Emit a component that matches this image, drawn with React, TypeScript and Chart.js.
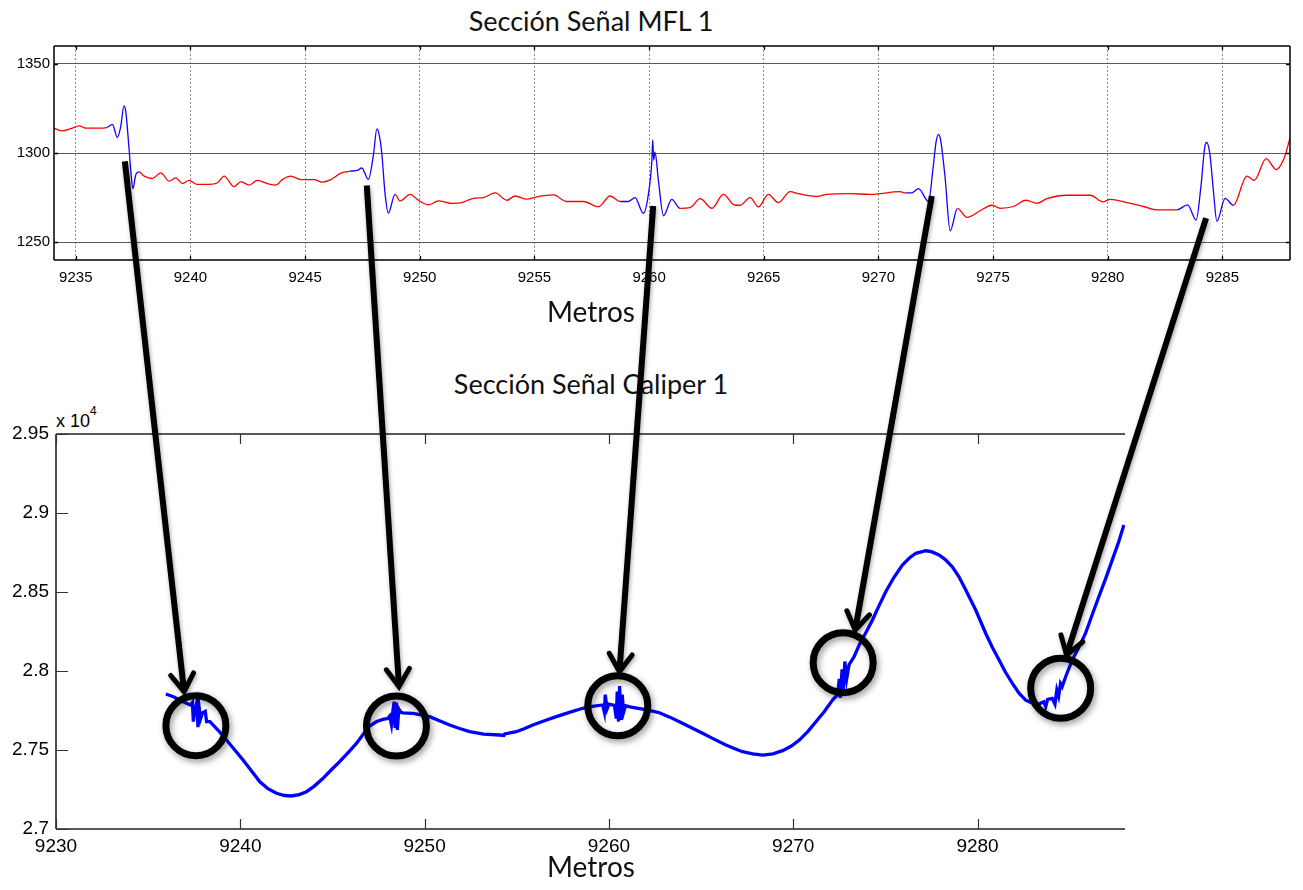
import React, { useEffect, useRef } from 'react';
import { Chart, registerables } from 'chart.js';

Chart.register(...registerables);

// ---------- Sección Señal MFL 1 ----------
const mflX = [
  9234.05, 9234.42, 9234.8, 9235.15, 9235.43, 9236.0, 9236.38, 9236.6, 9236.81, 9236.96,
  9237.1, 9237.18, 9237.32, 9237.4, 9237.49, 9237.62, 9237.76, 9237.98, 9238.34, 9238.71,
  9239.07, 9239.36, 9239.65, 9239.94, 9240.3, 9240.8, 9241.18, 9241.47, 9241.9, 9242.2,
  9242.56, 9242.92, 9243.36, 9243.72, 9244.01, 9244.38, 9244.81, 9245.39, 9245.75, 9246.12,
  9246.56, 9246.96, 9247.28, 9247.47, 9247.76, 9247.98, 9248.13, 9248.24, 9248.35, 9248.49,
  9248.63, 9248.92, 9249.14, 9249.58, 9249.94, 9250.38, 9250.81, 9251.4, 9251.83, 9252.34,
  9252.78, 9253.29, 9253.8, 9254.16, 9254.67, 9255.1, 9255.83, 9256.41, 9257.14, 9257.79,
  9258.3, 9258.74, 9259.1, 9259.39, 9259.75, 9259.97, 9260.12, 9260.16, 9260.2, 9260.26,
  9260.41, 9260.63, 9260.99, 9261.35, 9261.79, 9262.23, 9262.74, 9263.24, 9263.75, 9263.97,
  9264.41, 9264.77, 9265.2, 9265.64, 9266.15, 9266.51, 9267.32, 9267.75, 9268.77, 9269.64,
  9270.95, 9271.17, 9271.45, 9271.75, 9272.19, 9272.37, 9272.52, 9272.62, 9272.72, 9272.91,
  9273.13, 9273.45, 9273.86, 9274.44, 9274.95, 9275.31, 9275.89, 9276.44, 9276.91, 9277.35,
  9278.22, 9279.24, 9279.79, 9280.11, 9280.84, 9281.56, 9282.14, 9283.02, 9283.48, 9283.86,
  9284.06, 9284.25, 9284.32, 9284.46, 9284.61, 9284.76, 9285.12, 9285.48, 9286.07, 9286.39,
  9286.91, 9287.35, 9287.67, 9287.95,
];
const mflY = [
  1313.9, 1312.4, 1313.8, 1315.2, 1313.9, 1313.9, 1314.4, 1316.1, 1308.7, 1314.8,
  1326.4, 1323.2, 1302.8, 1289.8, 1280.0, 1288.0, 1289.4, 1287.0, 1285.7, 1288.9,
  1284.2, 1286.1, 1282.8, 1284.6, 1282.4, 1282.4, 1283.3, 1287.0, 1281.1, 1283.9,
  1282.0, 1284.6, 1282.8, 1282.0, 1285.1, 1287.0, 1285.1, 1285.1, 1283.7, 1285.1,
  1288.7, 1289.8, 1290.2, 1291.6, 1285.2, 1299.0, 1313.5, 1309.6, 1299.0, 1276.8,
  1266.3, 1276.8, 1273.1, 1276.8, 1273.5, 1270.9, 1273.1, 1271.8, 1272.2, 1274.6,
  1275.0, 1277.6, 1273.5, 1275.9, 1274.1, 1275.4, 1276.5, 1272.8, 1272.8, 1269.8,
  1275.9, 1272.8, 1272.8, 1275.0, 1266.1, 1276.8, 1295.4, 1307.4, 1296.0, 1300.5,
  1284.2, 1264.8, 1274.0, 1269.0, 1269.4, 1274.4, 1269.0, 1276.8, 1270.7, 1270.7,
  1275.0, 1269.8, 1276.8, 1272.2, 1278.3, 1277.2, 1275.6, 1276.8, 1277.2, 1276.8,
  1278.3, 1277.6, 1277.6, 1280.0, 1272.8, 1289.8, 1306.5, 1310.5, 1307.0, 1286.1,
  1256.4, 1269.0, 1263.9, 1267.6, 1270.7, 1269.0, 1270.0, 1273.5, 1271.8, 1274.4,
  1276.3, 1276.3, 1272.6, 1274.0, 1272.2, 1270.0, 1268.1, 1268.1, 1270.9, 1262.4,
  1280.5, 1304.6, 1305.9, 1299.0, 1278.7, 1261.7, 1274.6, 1270.7, 1287.0, 1284.6,
  1296.8, 1290.7, 1296.3, 1308.3,
];
// stretches of the MFL signal drawn in blue (anomalies)
const mflBlueStart = [9236.3, 9246.8, 9258.7, 9271.1, 9283.0];
const mflBlueEnd = [9237.7, 9249.0, 9261.2, 9273.6, 9285.4];
const mflXTicks = [9235, 9240, 9245, 9250, 9255, 9260, 9265, 9270, 9275, 9280, 9285];
const mflYTicks = [1250, 1300, 1350];

// ---------- Sección Señal Caliper 1 (x 10^4) ----------
const caliperX = [
  9235.96, 9236.4, 9236.9, 9237.2, 9237.3, 9237.4, 9237.45, 9237.55, 9237.65, 9237.7,
  9237.78, 9237.85, 9237.95, 9238.1, 9238.17, 9238.35, 9238.8, 9239.25, 9239.7, 9240.15,
  9240.6, 9241.06, 9241.5, 9241.96, 9242.4, 9242.77, 9243.2, 9243.59, 9244.0, 9244.49,
  9244.9, 9245.39, 9245.85, 9246.3, 9246.7, 9247.02, 9247.4, 9247.74, 9248.0, 9248.1,
  9248.2, 9248.28, 9248.35, 9248.4, 9248.47, 9248.52, 9248.6, 9248.7, 9248.8, 9249.37,
  9249.8, 9250.27, 9250.8, 9251.36, 9251.9, 9252.44, 9253.2, 9254.07, 9254.3, 9254.35,
  9254.97, 9255.4, 9255.87, 9256.5, 9257.14, 9257.9, 9258.58, 9259.1, 9259.66, 9259.75,
  9259.8, 9259.9, 9260.0, 9260.3, 9260.4, 9260.45, 9260.52, 9260.58, 9260.65, 9260.72,
  9260.8, 9260.9, 9261.2, 9261.83, 9262.3, 9262.74, 9263.3, 9263.82, 9264.45, 9265.08,
  9265.7, 9266.35, 9266.8, 9267.25, 9267.8, 9268.34, 9268.9, 9269.42, 9269.9, 9270.33,
  9270.8, 9271.23, 9271.7, 9272.13, 9272.4, 9272.5, 9272.55, 9272.65, 9272.72, 9272.8,
  9272.9, 9273.03, 9273.3, 9273.58, 9273.95, 9274.3, 9274.65, 9275.02, 9275.45, 9275.92,
  9276.3, 9276.65, 9277.19, 9277.5, 9277.91, 9278.25, 9278.63, 9279.0, 9279.36, 9279.9,
  9280.44, 9280.8, 9281.17, 9281.5, 9281.89, 9282.25, 9282.61, 9282.95, 9283.33, 9283.6,
  9283.7, 9283.8, 9284.05, 9284.2, 9284.3, 9284.4, 9284.5, 9284.59, 9284.8, 9285.14,
  9285.5, 9285.86, 9286.2, 9286.58, 9286.95, 9287.31, 9287.65, 9287.94,
];
const caliperY = [
  2.7854, 2.7835, 2.7806, 2.779, 2.7785, 2.78, 2.768, 2.776, 2.7805, 2.7645,
  2.776, 2.77, 2.7735, 2.7745, 2.768, 2.7679, 2.7625, 2.7563, 2.75, 2.7437,
  2.7368, 2.7299, 2.7255, 2.7226, 2.7212, 2.7209, 2.7218, 2.7236, 2.727, 2.7321,
  2.737, 2.7426, 2.7484, 2.7542, 2.7605, 2.7652, 2.768, 2.7694, 2.77, 2.7715,
  2.766, 2.775, 2.7806, 2.764, 2.78, 2.7627, 2.776, 2.774, 2.7735, 2.7732,
  2.7722, 2.7711, 2.7685, 2.7658, 2.7636, 2.7616, 2.76, 2.7595, 2.7592, 2.7602,
  2.7616, 2.7635, 2.7658, 2.7685, 2.7711, 2.774, 2.7764, 2.7776, 2.7785, 2.774,
  2.785, 2.776, 2.779, 2.7782, 2.77, 2.787, 2.768, 2.7905, 2.769, 2.785,
  2.774, 2.778, 2.7772, 2.7758, 2.7748, 2.7736, 2.7708, 2.7679, 2.7643, 2.7606,
  2.7569, 2.7532, 2.751, 2.7489, 2.7476, 2.7468, 2.7476, 2.7496, 2.7525, 2.7563,
  2.7618, 2.7679, 2.7745, 2.7816, 2.785, 2.795, 2.783, 2.801, 2.788, 2.806,
  2.795, 2.804, 2.809, 2.8165, 2.8245, 2.8323, 2.8412, 2.8502, 2.859, 2.8671,
  2.8715, 2.8745, 2.8761, 2.8755, 2.8734, 2.8705, 2.866, 2.8595, 2.8513, 2.8386,
  2.8239, 2.815, 2.807, 2.7995, 2.7922, 2.786, 2.7816, 2.7798, 2.7791, 2.7805,
  2.7775, 2.782, 2.7827, 2.779, 2.788, 2.784, 2.792, 2.7901, 2.797, 2.807,
  2.815, 2.8239, 2.835, 2.847, 2.8585, 2.8703, 2.8815, 2.8924,
];
const caliperXTicks = [9230, 9240, 9250, 9260, 9270, 9280];
const caliperYTicks = [2.7, 2.75, 2.8, 2.85, 2.9, 2.95];

// ---------- annotations: arrows from MFL anomalies to circled caliper points ----------
const arrowFromX = [9237.14, 9247.69, 9260.18, 9272.33, 9284.29];
const arrowFromY = [1295.3, 1281.8, 1270.3, 1275.9, 1263.5];
const arrowToX = [9236.95, 9248.61, 9260.57, 9273.36, 9284.83];
const arrowToY = [2.7869, 2.7901, 2.7996, 2.8259, 2.8101];
const circleX = [9237.59, 9248.47, 9260.48, 9272.71, 9284.51];
const circleY = [2.7654, 2.7652, 2.778, 2.8053, 2.7891];

const TICK_FONT = '"Liberation Sans", Arial, Helvetica, sans-serif';
const TEXT_FONT = 'Lato, "Open Sans", sans-serif';

const framePlugin = {
  id: 'frame',
  afterDraw(chart: any, _args: any, opts: any) {
    const { ctx, chartArea: a, scales } = chart;
    ctx.save();
    ctx.strokeStyle = opts.color;
    ctx.lineWidth = opts.width;
    ctx.beginPath();
    if (opts.sides.includes('l')) { ctx.moveTo(a.left, a.top); ctx.lineTo(a.left, a.bottom); }
    if (opts.sides.includes('r')) { ctx.moveTo(a.right, a.top); ctx.lineTo(a.right, a.bottom); }
    if (opts.sides.includes('t')) { ctx.moveTo(a.left, a.top); ctx.lineTo(a.right, a.top); }
    if (opts.sides.includes('b')) { ctx.moveTo(a.left, a.bottom); ctx.lineTo(a.right, a.bottom); }
    ctx.stroke();
    ctx.strokeStyle = opts.tickColor;
    ctx.lineWidth = opts.tickWidth;
    ctx.beginPath();
    for (const t of scales.x.ticks) {
      const px = Math.round(scales.x.getPixelForValue(t.value)) + 0.5;
      ctx.moveTo(px, a.bottom); ctx.lineTo(px, a.bottom - opts.xTickLen);
      ctx.moveTo(px, a.top); ctx.lineTo(px, a.top + opts.xTickLen);
    }
    for (const t of scales.y.ticks) {
      const py = Math.round(scales.y.getPixelForValue(t.value)) + 0.5;
      ctx.moveTo(a.left, py); ctx.lineTo(a.left + opts.yTickLen, py);
      if (opts.sides.includes('r')) { ctx.moveTo(a.right, py); ctx.lineTo(a.right - opts.yTickLen, py); }
    }
    ctx.stroke();
    ctx.restore();
  },
};

const inBlue = (x: number) => mflBlueStart.some((s, i) => x >= s && x <= mflBlueEnd[i]);

const TOP = { left: 0, top: 30, width: 1287, height: 262 };
const BOT = { left: 0, top: 412, width: 1287, height: 440 };

function drawArrow(ctx: CanvasRenderingContext2D, x0: number, y0: number, x1: number, y1: number) {
  const ang = Math.atan2(y1 - y0, x1 - x0);
  ctx.save();
  ctx.shadowColor = 'rgba(0,0,0,0.35)';
  ctx.shadowBlur = 4;
  ctx.shadowOffsetX = 1;
  ctx.shadowOffsetY = 2;
  ctx.strokeStyle = '#000';
  ctx.lineWidth = 6;
  ctx.lineCap = 'butt';
  ctx.beginPath();
  ctx.moveTo(x0, y0);
  ctx.lineTo(x1 - Math.cos(ang) * 3, y1 - Math.sin(ang) * 3);
  ctx.stroke();
  const L = 21;
  const h = 0.58;
  ctx.lineWidth = 5;
  ctx.lineCap = 'round';
  ctx.lineJoin = 'miter';
  ctx.beginPath();
  ctx.moveTo(x1 - L * Math.cos(ang - h), y1 - L * Math.sin(ang - h));
  ctx.lineTo(x1, y1);
  ctx.lineTo(x1 - L * Math.cos(ang + h), y1 - L * Math.sin(ang + h));
  ctx.stroke();
  ctx.restore();
}

function drawRing(ctx: CanvasRenderingContext2D, cx: number, cy: number) {
  ctx.save();
  ctx.shadowColor = 'rgba(0,0,0,0.4)';
  ctx.shadowBlur = 6;
  ctx.shadowOffsetX = 2;
  ctx.shadowOffsetY = 3;
  ctx.strokeStyle = '#000';
  ctx.lineWidth = 7;
  ctx.beginPath();
  ctx.arc(cx, cy, 30, 0, Math.PI * 2);
  ctx.stroke();
  ctx.restore();
}

export default function App() {
  const topRef = useRef<HTMLCanvasElement>(null);
  const botRef = useRef<HTMLCanvasElement>(null);
  const ovRef = useRef<HTMLCanvasElement>(null);

  useEffect(() => {
    const top = new Chart(topRef.current!, {
      type: 'line',
      data: {
        datasets: [
          {
            data: mflX.map((x, i) => ({ x, y: mflY[i] })),
            borderColor: '#ff0000',
            borderWidth: 1.3,
            pointRadius: 0,
            cubicInterpolationMode: 'monotone',
            segment: {
              borderColor: (c: any) =>
                inBlue((c.p0.parsed.x + c.p1.parsed.x) / 2) ? '#1400ff' : '#ff0000',
            },
          } as any,
        ],
      },
      plugins: [framePlugin],
      options: {
        responsive: false,
        animation: false,
        events: [],
        layout: { padding: { top: 8, right: 5, left: 0, bottom: 0 } },
        plugins: {
          legend: { display: false },
          tooltip: { enabled: false },
          frame: {
            sides: 'lrtb', color: '#000', width: 1.5, tickColor: '#000', tickWidth: 1.3,
            xTickLen: 4, yTickLen: 4,
          },
        } as any,
        scales: {
          x: {
            type: 'linear',
            min: 9234.05,
            max: 9287.95,
            afterBuildTicks: (s: any) => { s.ticks = mflXTicks.map((v) => ({ value: v })); },
            afterFit: (s: any) => { s.height = 40; s.paddingLeft = 0; s.paddingRight = 0; },
            grid: { color: '#8a8a8a', lineWidth: 1, drawTicks: false },
            border: { display: false, dash: [2, 2] },
            ticks: {
              padding: 9,
              color: '#000',
              font: { family: TICK_FONT, size: 15 },
              maxRotation: 0,
              autoSkip: false,
              callback: (v: any) => String(v),
            },
          },
          y: {
            type: 'linear',
            min: 1240,
            max: 1360,
            afterBuildTicks: (s: any) => { s.ticks = mflYTicks.map((v) => ({ value: v })); },
            afterFit: (s: any) => { s.width = 46; s.paddingTop = 0; s.paddingBottom = 0; },
            grid: { color: '#5a5a5a', lineWidth: 1, drawTicks: false },
            border: { display: false },
            ticks: {
              padding: 4,
              color: '#000',
              font: { family: TICK_FONT, size: 15 },
              callback: (v: any) => String(v),
            },
          },
        },
      } as any,
    });

    const bot = new Chart(botRef.current!, {
      type: 'line',
      data: {
        datasets: [
          {
            data: caliperX.map((x, i) => ({ x, y: caliperY[i] })),
            borderColor: '#0000ff',
            borderWidth: 3.3,
            pointRadius: 0,
            tension: 0,
          },
        ],
      },
      plugins: [framePlugin],
      options: {
        responsive: false,
        animation: false,
        events: [],
        layout: { padding: { top: 14, right: 170, left: 0, bottom: 0 } },
        plugins: {
          legend: { display: false },
          tooltip: { enabled: false },
          frame: {
            sides: 'ltb', color: '#222', width: 1.6, tickColor: '#333', tickWidth: 1.2,
            xTickLen: 10, yTickLen: 12,
          },
        } as any,
        scales: {
          x: {
            type: 'linear',
            min: 9230,
            max: 9288,
            afterBuildTicks: (s: any) => { s.ticks = caliperXTicks.map((v) => ({ value: v })); },
            afterFit: (s: any) => { s.height = 31; s.paddingLeft = 0; s.paddingRight = 0; },
            grid: { display: false, drawTicks: false },
            border: { display: false },
            ticks: {
              padding: 6,
              color: '#000',
              font: { family: TICK_FONT, size: 19 },
              maxRotation: 0,
              autoSkip: false,
              callback: (v: any) => String(v),
            },
          },
          y: {
            type: 'linear',
            min: 2.7,
            max: 2.95,
            afterBuildTicks: (s: any) => { s.ticks = caliperYTicks.map((v) => ({ value: v })); },
            afterFit: (s: any) => { s.width = 48; s.paddingTop = 0; s.paddingBottom = 0; },
            grid: { display: false, drawTicks: false },
            border: { display: false },
            ticks: {
              padding: 7,
              color: '#000',
              font: { family: TICK_FONT, size: 19 },
              callback: (v: any) => String(v),
            },
          },
        },
      } as any,
    });

    const ov = ovRef.current!;
    const ctx = ov.getContext('2d')!;
    ctx.clearRect(0, 0, ov.width, ov.height);
    const tx = (v: number) => TOP.left + top.scales.x.getPixelForValue(v);
    const ty = (v: number) => TOP.top + top.scales.y.getPixelForValue(v);
    const bx = (v: number) => BOT.left + bot.scales.x.getPixelForValue(v);
    const by = (v: number) => BOT.top + bot.scales.y.getPixelForValue(v);
    circleX.forEach((cx, i) => drawRing(ctx, bx(cx), by(circleY[i])));
    arrowFromX.forEach((fx, i) =>
      drawArrow(ctx, tx(fx), ty(arrowFromY[i]), bx(arrowToX[i]), by(arrowToY[i]))
    );

    return () => {
      top.destroy();
      bot.destroy();
    };
  }, []);

  const textStyle = (x: number, y: number, size: number): React.CSSProperties => ({
    position: 'absolute',
    left: x,
    top: y,
    transform: 'translate(-50%, -50%)',
    fontFamily: TEXT_FONT,
    fontSize: size,
    color: '#111',
    whiteSpace: 'nowrap',
    lineHeight: 0.8,
  });

  return (
    <div style={{ position: 'relative', width: 1287, height: 874, background: '#fff' }}>
      <div style={textStyle(583, 13, 27)}>Sección Señal MFL 1</div>
      <canvas
        ref={topRef}
        width={TOP.width}
        height={TOP.height}
        style={{ position: 'absolute', left: TOP.left, top: TOP.top }}
      />
      <div style={textStyle(583, 303, 28)}>Metros</div>
      <div style={textStyle(583, 376, 27)}>Sección Señal Caliper 1</div>
      <div
        style={{
          position: 'absolute',
          left: 48,
          top: 404,
          fontFamily: TICK_FONT,
          fontSize: 18,
          color: '#000',
          whiteSpace: 'nowrap',
          lineHeight: 1,
        }}
      >
        x 10<sup style={{ fontSize: 12, verticalAlign: 'top', position: 'relative', top: -7 }}>4</sup>
      </div>
      <canvas
        ref={botRef}
        width={BOT.width}
        height={BOT.height}
        style={{ position: 'absolute', left: BOT.left, top: BOT.top }}
      />
      <div style={textStyle(583, 858, 28)}>Metros</div>
      <canvas
        ref={ovRef}
        width={1287}
        height={874}
        style={{ position: 'absolute', left: 0, top: 0, pointerEvents: 'none' }}
      />
    </div>
  );
}
